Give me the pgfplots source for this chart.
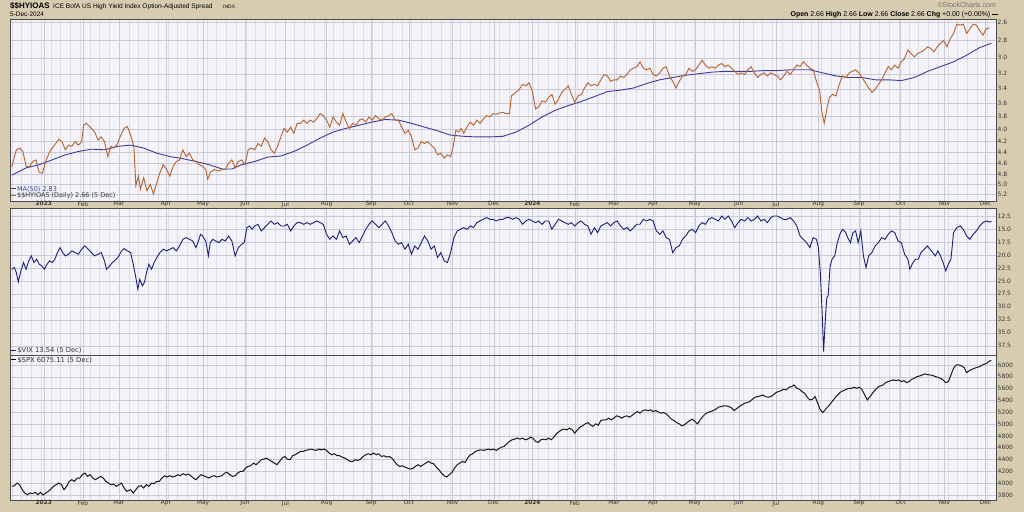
\documentclass[border=0pt]{standalone}
\usepackage{pgfplots}
\pgfplotsset{compat=1.18}
\usepackage{fontspec}
\setmainfont{DejaVu Sans}
\newfontfamily\arialf{Liberation Sans}
\definecolor{bgtan}{HTML}{D8CCB0}
\definecolor{plotbg}{HTML}{F3F3F9}
\definecolor{gridc}{HTML}{DDDDE6}
\definecolor{gridm}{HTML}{CACAD7}
\definecolor{hyc}{HTML}{B5622C}
\definecolor{mac}{HTML}{3D3D98}
\definecolor{vixc}{HTML}{1E1E78}
\definecolor{labc}{HTML}{333333}
\pgfplotsset{
  panel/.style={
    scale only axis, width=986bp, anchor=south west,
    xmin=15.3, xmax=1525,
    axis background/.style={fill=plotbg},
    xmajorgrids, xminorgrids, ymajorgrids,
    major grid style={draw=gridm, line width=0.35bp},
    minor grid style={draw=gridc, line width=0.3bp},
    xtick={67,127,182,254,311,375,437,500,568,626,693,756,815,880,940,1000,1064,1131,1188,1253,1315,1379,1446,1509},
    minor xtick={18,32.93,...,1525},
    major tick length=0pt, minor tick length=0pt,
    axis line style={draw=black!70, line width=0.5bp},
    ytick pos=right, yticklabel pos=right,
    tick label style={font=\fontsize{6}{7}\selectfont, text=labc},
    yticklabel style={inner sep=0.5bp, xshift=1bp},
    xticklabel style={font=\fontsize{5.8}{7}\selectfont, inner sep=0.5bp},
  },
  monthlabels/.style={xticklabels={\textbf{2023},Feb,Mar,Apr,May,Jun,Jul,Aug,Sep,Oct,Nov,Dec,\textbf{2024},Feb,Mar,Apr,May,Jun,Jul,Aug,Sep,Oct,Nov,Dec}},
}
\newcommand{\ldash}[1]{\textcolor{#1}{\rule[0.28em]{0.75em}{1.1bp}}}
\begin{document}
\begin{tikzpicture}
\useasboundingbox (0,0) rectangle (1024bp,512bp);
\fill[bgtan] (0,0) rectangle (1024bp,512bp);

% ---------- top panel: HY OAS (log, reversed)
\begin{axis}[panel, at={(10bp,311bp)}, height=182bp,
  ymode=log, y dir=reverse, ymin=2.566, ymax=5.349,
  ytick={2.6,2.8,3.0,3.2,3.4,3.6,3.8,4.0,4.2,4.4,4.6,4.8,5.0,5.2},
  yticklabels={2.6,2.8,3.0,3.2,3.4,3.6,3.8,4.0,4.2,4.4,4.6,4.8,5.0,5.2},
  xticklabel pos=left, monthlabels]
\addplot[mac, line width=0.9bp] coordinates {
(18,4.82)(40,4.68)(60,4.62)(80,4.53)(100,4.44)(120,4.38)(140,4.34)(160,4.35)(180,4.29)(200,4.27)
(220,4.32)(240,4.41)(260,4.47)(280,4.51)(300,4.56)(320,4.62)(340,4.70)(355,4.70)(370,4.62)(390,4.56)
(410,4.48)(430,4.46)(450,4.38)(470,4.27)(490,4.15)(510,4.05)(530,3.99)(550,3.94)(570,3.89)(590,3.85)
(610,3.86)(630,3.91)(650,3.97)(670,4.03)(690,4.10)(710,4.12)(730,4.13)(750,4.13)(770,4.12)(790,4.05)
(810,3.94)(830,3.81)(850,3.71)(870,3.64)(890,3.58)(910,3.51)(930,3.44)(950,3.42)(970,3.39)(990,3.33)
(1010,3.28)(1030,3.25)(1050,3.22)(1070,3.20)(1090,3.18)(1110,3.17)(1130,3.17)(1150,3.17)(1170,3.16)(1190,3.16)
(1210,3.15)(1240,3.15)(1260,3.19)(1280,3.23)(1300,3.25)(1320,3.25)(1340,3.28)(1360,3.28)(1380,3.29)(1400,3.25)
(1420,3.17)(1440,3.11)(1460,3.05)(1480,2.97)(1500,2.88)(1518,2.83)};
\addplot[hyc, line width=0.9bp] coordinates {
(18,4.66)(25,4.35)(30,4.32)(35,4.38)(40,4.65)(45,4.66)(50,4.56)(55,4.53)(60,4.77)(65,4.78)
(70,4.56)(75,4.41)(80,4.32)(90,4.17)(95,4.21)(100,4.35)(105,4.27)(110,4.29)(115,4.21)(120,4.27)
(125,4.21)(128,3.94)(132,3.91)(140,3.99)(145,4.05)(150,4.18)(155,4.13)(160,4.21)(165,4.47)(170,4.29)
(175,4.32)(180,4.24)(185,4.10)(190,3.99)(195,3.96)(200,4.10)(205,4.29)(208,5.03)(212,4.84)(215,5.10)
(220,4.87)(225,5.13)(230,5.00)(235,5.20)(240,4.97)(245,4.77)(250,4.62)(255,4.71)(260,4.84)(265,4.65)
(270,4.56)(275,4.53)(280,4.35)(285,4.47)(290,4.41)(295,4.53)(300,4.56)(305,4.62)(310,4.65)(315,4.71)
(318,4.90)(322,4.77)(328,4.71)(335,4.74)(340,4.71)(345,4.71)(350,4.59)(355,4.53)(360,4.68)(365,4.56)
(370,4.53)(375,4.62)(380,4.35)(385,4.32)(390,4.35)(395,4.24)(400,4.29)(405,4.15)(410,4.21)(415,4.35)
(420,4.41)(425,4.29)(430,4.13)(435,3.99)(440,4.05)(445,3.97)(450,4.07)(455,3.91)(460,3.91)(465,3.86)
(470,3.91)(475,3.86)(480,3.89)(485,3.84)(490,3.76)(495,3.79)(500,3.86)(505,3.97)(510,3.81)(515,3.89)
(520,3.94)(525,3.76)(530,3.89)(535,3.99)(540,3.91)(545,3.94)(550,3.86)(555,3.84)(560,3.89)(565,3.81)
(570,3.86)(575,3.79)(580,3.84)(585,3.86)(590,3.81)(595,3.79)(600,3.76)(605,3.86)(610,3.86)(615,3.97)
(620,4.07)(625,4.02)(630,4.13)(635,4.35)(640,4.32)(645,4.21)(650,4.24)(655,4.21)(660,4.27)(665,4.32)
(670,4.44)(675,4.41)(680,4.50)(685,4.44)(690,4.47)(694,4.29)(698,4.02)(702,4.05)(706,3.99)(710,4.07)
(715,3.97)(720,3.89)(725,3.94)(730,3.86)(735,3.91)(740,3.84)(745,3.79)(750,3.81)(755,3.76)(760,3.77)
(765,3.75)(770,3.74)(775,3.76)(780,3.76)(783,3.50)(790,3.45)(795,3.41)(800,3.34)(805,3.36)(810,3.32)
(815,3.43)(820,3.69)(825,3.66)(830,3.57)(835,3.59)(840,3.52)(845,3.48)(850,3.62)(855,3.55)(860,3.45)
(865,3.41)(870,3.36)(875,3.48)(880,3.59)(885,3.50)(890,3.48)(895,3.39)(900,3.32)(905,3.36)(910,3.34)
(915,3.36)(920,3.28)(925,3.21)(930,3.23)(935,3.30)(940,3.28)(945,3.28)(950,3.23)(955,3.25)(960,3.21)
(965,3.15)(970,3.13)(975,3.11)(980,3.05)(985,3.13)(990,3.15)(995,3.13)(1000,3.21)(1005,3.23)(1010,3.19)
(1015,3.13)(1020,3.11)(1025,3.23)(1030,3.30)(1035,3.39)(1040,3.30)(1045,3.23)(1050,3.21)(1055,3.13)(1060,3.17)
(1065,3.15)(1070,3.09)(1075,3.03)(1080,3.09)(1085,3.13)(1090,3.11)(1095,3.13)(1100,3.09)(1105,3.07)(1110,3.11)
(1115,3.09)(1120,3.13)(1125,3.17)(1130,3.21)(1135,3.19)(1140,3.21)(1145,3.15)(1150,3.11)(1155,3.19)(1160,3.25)
(1165,3.21)(1170,3.19)(1175,3.23)(1180,3.19)(1185,3.21)(1190,3.23)(1195,3.28)(1200,3.23)(1205,3.17)(1210,3.21)
(1215,3.15)(1220,3.09)(1225,3.11)(1230,3.05)(1235,3.09)(1240,3.13)(1245,3.15)(1250,3.30)(1255,3.43)(1258,3.71)
(1262,3.91)(1266,3.69)(1270,3.52)(1275,3.48)(1280,3.50)(1285,3.34)(1290,3.23)(1295,3.25)(1300,3.19)(1305,3.17)
(1310,3.15)(1315,3.19)(1320,3.25)(1325,3.32)(1330,3.39)(1335,3.45)(1340,3.41)(1345,3.34)(1350,3.28)(1355,3.19)
(1360,3.11)(1365,3.15)(1370,3.09)(1375,3.13)(1380,3.05)(1385,3.01)(1390,2.91)(1395,2.95)(1400,2.99)(1405,2.95)
(1410,2.93)(1415,2.91)(1420,2.87)(1425,2.89)(1430,2.93)(1435,2.87)(1440,2.83)(1445,2.80)(1450,2.87)(1455,2.78)
(1460,2.72)(1465,2.62)(1470,2.63)(1475,2.62)(1480,2.72)(1485,2.67)(1490,2.62)(1495,2.63)(1500,2.69)(1505,2.74)
(1510,2.67)(1515,2.66)};
\end{axis}

% ---------- middle panel: VIX (reversed)
\begin{axis}[panel, at={(10bp,157bp)}, height=147bp,
  y dir=reverse, ymin=10.96, ymax=39.29,
  ytick={12.5,15,17.5,20,22.5,25,27.5,30,32.5,35,37.5},
  yticklabels={12.5,15.0,17.5,20.0,22.5,25.0,27.5,30.0,32.5,35.0,37.5},
  xticklabels={}]
\addplot[vixc, line width=0.9bp] coordinates {
(18,22.76)(22,22.44)(25,23.40)(28,25.19)(32,23.08)(36,21.47)(40,22.76)(44,21.15)(48,20.19)(52,21.47)
(56,20.83)(60,21.79)(64,22.12)(68,22.76)(72,21.79)(76,21.15)(80,21.47)(84,20.83)(88,19.55)(92,18.59)
(96,19.55)(100,20.19)(105,19.87)(110,19.23)(115,19.55)(120,19.87)(125,18.91)(130,18.27)(135,18.91)(140,19.55)
(145,20.19)(150,19.87)(155,19.55)(160,21.15)(163,22.76)(168,22.12)(172,21.47)(178,20.83)(182,20.19)(186,19.23)
(190,18.78)(195,19.23)(200,19.55)(204,21.79)(208,24.36)(211,26.60)(214,24.68)(218,25.96)(221,25.32)(225,23.08)
(228,21.79)(232,22.76)(236,21.47)(240,20.51)(245,19.55)(250,18.91)(255,19.23)(260,18.91)(265,18.59)(270,19.23)
(275,18.27)(280,16.99)(285,16.67)(290,16.99)(295,17.31)(300,18.59)(303,17.63)(307,16.03)(310,16.35)(315,17.31)
(319,20.19)(322,17.63)(326,16.99)(330,17.31)(335,17.63)(340,16.99)(345,17.31)(350,16.35)(355,17.31)(360,20.19)
(365,18.59)(370,17.95)(374,17.63)(378,14.74)(382,14.42)(386,15.06)(390,14.42)(395,14.10)(400,15.38)(405,14.74)
(410,14.10)(415,13.46)(420,14.10)(425,13.78)(430,14.42)(435,14.42)(440,14.10)(445,15.38)(450,14.42)(455,13.78)
(460,13.78)(465,14.10)(470,13.78)(475,14.10)(480,13.78)(485,13.46)(490,13.78)(495,14.10)(500,16.03)(505,16.99)
(510,16.35)(515,16.99)(520,15.38)(525,16.67)(530,16.35)(535,17.95)(540,17.31)(545,16.67)(550,17.63)(555,16.35)
(560,15.06)(565,14.10)(570,13.46)(575,14.10)(580,14.74)(585,14.10)(590,13.46)(595,14.42)(600,15.71)(605,17.31)
(610,17.95)(615,17.63)(620,18.91)(625,17.95)(630,19.87)(635,18.27)(640,18.91)(645,17.63)(650,16.35)(655,17.31)
(660,18.91)(665,18.27)(670,20.51)(675,19.55)(680,21.15)(685,21.47)(690,19.55)(695,16.67)(700,15.38)(705,15.06)
(710,14.74)(715,15.06)(720,14.42)(725,14.74)(730,13.78)(735,13.46)(740,13.14)(745,12.82)(750,13.14)(755,13.14)
(760,13.46)(765,13.14)(770,13.14)(775,12.82)(780,12.82)(785,13.14)(790,12.82)(795,13.14)(800,14.10)(805,13.46)
(810,13.14)(815,13.46)(820,13.78)(825,13.46)(830,14.10)(835,13.46)(840,13.46)(845,15.06)(850,14.10)(855,13.14)
(860,13.46)(865,13.78)(870,14.10)(875,13.78)(880,14.42)(885,13.78)(890,13.46)(895,14.10)(900,14.42)(905,16.03)
(910,14.74)(915,15.71)(920,14.42)(925,14.10)(930,13.78)(935,14.42)(940,13.78)(945,13.46)(950,14.42)(955,15.06)
(960,14.74)(965,15.38)(970,14.74)(975,14.10)(980,14.10)(985,13.14)(990,13.46)(995,13.14)(1000,13.46)(1005,15.38)
(1010,16.03)(1015,15.38)(1020,16.67)(1025,16.99)(1030,19.55)(1035,18.59)(1040,18.27)(1045,16.99)(1050,16.35)(1055,15.38)
(1060,15.06)(1065,15.71)(1070,14.42)(1075,13.78)(1080,14.10)(1085,13.14)(1090,12.82)(1095,13.14)(1100,13.46)(1105,12.50)
(1110,13.14)(1115,12.50)(1120,13.46)(1125,14.74)(1130,13.78)(1135,13.14)(1140,13.46)(1145,12.82)(1150,13.46)(1155,13.14)
(1160,12.50)(1165,13.46)(1170,13.14)(1175,13.78)(1180,12.82)(1185,12.50)(1190,12.50)(1195,12.82)(1200,13.14)(1205,13.14)
(1210,12.82)(1215,13.46)(1220,14.42)(1225,16.35)(1230,16.99)(1235,17.63)(1240,18.59)(1245,16.67)(1250,16.99)(1253,18.59)
(1256,23.40)(1259,31.73)(1261,38.65)(1264,31.73)(1266,28.20)(1268,27.88)(1271,22.12)(1274,20.83)(1278,20.19)(1282,17.63)
(1286,16.03)(1290,15.06)(1295,15.71)(1298,16.67)(1302,17.63)(1306,15.71)(1310,15.38)(1314,17.63)(1318,15.38)(1322,20.19)
(1326,22.44)(1330,20.19)(1335,19.55)(1340,18.27)(1345,17.63)(1350,16.67)(1355,16.99)(1360,16.03)(1365,15.38)(1370,15.71)
(1375,17.31)(1380,17.63)(1385,19.87)(1390,20.83)(1393,22.76)(1398,21.47)(1402,20.83)(1406,20.83)(1410,19.55)(1415,18.91)
(1420,18.27)(1424,18.91)(1428,19.55)(1432,20.19)(1436,19.23)(1440,20.19)(1444,21.47)(1448,23.08)(1452,21.79)(1456,20.83)
(1460,15.71)(1465,14.74)(1470,14.42)(1475,15.06)(1480,16.35)(1485,16.99)(1490,16.03)(1495,15.38)(1500,14.42)(1505,13.78)
(1510,13.46)(1515,13.65)(1518,13.54)};
\end{axis}

% ---------- bottom panel: SPX
\begin{axis}[panel, at={(10bp,12bp)}, height=145bp,
  ymin=3715, ymax=6169,
  ytick={3800,4000,4200,4400,4600,4800,5000,5200,5400,5600,5800,6000},
  yticklabels={3800,4000,4200,4400,4600,4800,5000,5200,5400,5600,5800,6000},
  monthlabels]
\addplot[black!90, line width=1bp] coordinates {
(18,3946)(22,3957)(26,4002)(30,3974)(34,3890)(38,3833)(42,3805)(46,3833)(50,3822)(54,3845)
(58,3805)(62,3845)(66,3800)(70,3833)(74,3862)(78,3901)(82,3946)(86,3974)(90,4002)(94,3974)
(98,3890)(102,3946)(106,4030)(110,4059)(114,4030)(118,4087)(122,4087)(126,4143)(130,4171)(134,4115)
(138,4143)(142,4087)(146,4059)(150,4087)(154,4115)(158,4087)(162,4030)(166,4002)(170,3974)(174,3985)
(178,3946)(182,3974)(186,4002)(190,3918)(194,3862)(200,3890)(204,3833)(208,3890)(212,3946)(216,3957)
(220,3918)(224,3974)(228,3946)(232,4002)(236,3991)(240,4030)(244,4030)(248,4087)(252,4126)(256,4104)
(260,4126)(264,4104)(268,4115)(272,4143)(276,4126)(280,4160)(284,4137)(288,4154)(292,4126)(296,4087)
(300,4059)(304,4104)(308,4143)(312,4126)(316,4104)(320,4087)(324,4115)(328,4126)(332,4104)(336,4115)
(340,4126)(344,4171)(348,4182)(352,4143)(356,4115)(360,4126)(364,4171)(368,4199)(372,4199)(376,4255)
(380,4284)(384,4295)(388,4340)(392,4312)(396,4351)(400,4396)(404,4407)(408,4424)(412,4396)(416,4368)
(420,4340)(424,4312)(428,4368)(432,4424)(436,4452)(440,4407)(444,4396)(448,4464)(452,4481)(456,4509)
(460,4537)(464,4537)(468,4554)(472,4565)(476,4576)(480,4565)(484,4554)(488,4576)(492,4565)(496,4576)
(500,4554)(504,4509)(508,4481)(512,4497)(516,4464)(520,4464)(524,4441)(528,4424)(532,4396)(536,4368)
(540,4368)(544,4396)(548,4385)(552,4407)(556,4452)(560,4481)(564,4497)(568,4481)(572,4509)(576,4481)
(580,4497)(584,4452)(588,4464)(592,4441)(596,4452)(600,4424)(604,4368)(608,4312)(612,4284)(616,4295)
(620,4272)(624,4255)(628,4239)(632,4250)(636,4284)(640,4312)(644,4284)(648,4312)(652,4340)(656,4368)
(660,4340)(664,4329)(668,4272)(672,4227)(676,4171)(680,4126)(684,4104)(688,4143)(692,4182)(696,4255)
(700,4312)(704,4340)(708,4368)(712,4351)(716,4424)(720,4481)(724,4497)(728,4537)(732,4554)(736,4565)
(740,4554)(744,4565)(748,4576)(752,4565)(756,4576)(760,4554)(764,4587)(768,4610)(772,4621)(776,4666)
(780,4706)(784,4734)(788,4745)(792,4762)(796,4745)(800,4762)(804,4734)(808,4745)(812,4779)(816,4762)
(820,4706)(824,4689)(828,4734)(832,4745)(836,4734)(840,4762)(844,4734)(848,4779)(852,4835)(856,4874)
(860,4903)(864,4914)(868,4903)(872,4931)(876,4903)(880,4846)(884,4903)(888,4948)(892,4970)(896,5004)
(900,5026)(904,4987)(908,4959)(912,5004)(916,4981)(920,5060)(924,5071)(928,5071)(932,5100)(936,5071)
(940,5100)(944,5139)(948,5128)(952,5100)(956,5128)(960,5139)(964,5116)(968,5150)(972,5184)(976,5212)
(980,5184)(984,5229)(988,5240)(992,5229)(996,5240)(1000,5212)(1004,5229)(1008,5206)(1012,5184)(1016,5195)
(1020,5173)(1024,5128)(1028,5083)(1032,5060)(1036,5026)(1040,5004)(1044,4970)(1048,4987)(1052,5026)(1056,5060)
(1060,5083)(1064,5043)(1068,5004)(1072,5071)(1076,5128)(1080,5173)(1084,5195)(1088,5212)(1092,5229)(1096,5251)
(1100,5285)(1104,5296)(1108,5308)(1112,5308)(1116,5296)(1120,5274)(1124,5229)(1128,5263)(1132,5296)(1136,5325)
(1140,5353)(1144,5364)(1148,5381)(1152,5420)(1156,5454)(1160,5465)(1164,5476)(1168,5493)(1172,5465)(1176,5454)
(1180,5465)(1184,5493)(1188,5533)(1192,5550)(1196,5567)(1200,5589)(1204,5578)(1208,5623)(1212,5634)(1216,5662)
(1220,5606)(1224,5589)(1228,5550)(1232,5522)(1236,5454)(1240,5409)(1244,5420)(1248,5465)(1252,5353)(1256,5240)
(1260,5195)(1264,5251)(1268,5296)(1272,5353)(1276,5409)(1280,5465)(1284,5510)(1288,5550)(1292,5567)(1296,5589)
(1300,5606)(1304,5606)(1308,5623)(1312,5606)(1316,5623)(1320,5578)(1324,5493)(1328,5409)(1332,5465)(1336,5522)
(1340,5578)(1344,5623)(1348,5645)(1352,5662)(1356,5702)(1360,5719)(1364,5736)(1368,5747)(1372,5736)(1376,5747)
(1380,5719)(1384,5736)(1388,5702)(1392,5719)(1396,5758)(1400,5775)(1404,5803)(1408,5814)(1412,5831)(1416,5848)
(1420,5837)(1424,5831)(1428,5825)(1432,5803)(1436,5792)(1440,5775)(1444,5747)(1448,5702)(1452,5719)(1456,5831)
(1460,5944)(1464,6000)(1468,6000)(1472,5983)(1476,5960)(1480,5870)(1484,5904)(1488,5927)(1492,5944)(1496,5960)
(1500,5972)(1504,6000)(1508,6017)(1512,6039)(1516,6073)(1518,6075)};
\end{axis}

% ---------- header texts
\node[anchor=base west, inner sep=0, font=\arialf\bfseries\fontsize{8}{9}\selectfont] at (10bp,503.8bp) {\$\$HYIOAS};
\node[anchor=base west, inner sep=0, font=\arialf\fontsize{6.6}{8}\selectfont] at (53bp,503.8bp) {ICE BofA US High Yield Index Option-Adjusted Spread};
\node[anchor=base west, inner sep=0, font=\arialf\fontsize{5}{6}\selectfont] at (223bp,503.8bp) {INDX};
\node[anchor=base west, inner sep=0, font=\arialf\fontsize{6.5}{7}\selectfont] at (10bp,495.4bp) {5-Dec-2024};
\node[anchor=base east, inner sep=0, text=black!55, font=\arialf\fontsize{7}{8}\selectfont] at (996bp,504bp) {\textcopyright StockCharts.com};
\node[anchor=base east, inner sep=0, font=\arialf\fontsize{7}{8}\selectfont] at (998bp,495.4bp) {\textbf{Open} 2.66 \textbf{High} 2.66 \textbf{Low} 2.66 \textbf{Close} 2.66 \textbf{Chg} +0.00 (+0.00\%) \rule[0.3em]{0.8em}{0.9bp}};

% ---------- legends
\node[anchor=west, inner sep=0, font=\fontsize{6.5}{7}\selectfont] at (11bp,323bp) {\ldash{mac}\,\textcolor{mac}{MA(50) 2.83}};
\node[anchor=west, inner sep=0, font=\fontsize{6.5}{7}\selectfont] at (11bp,316.3bp) {\ldash{hyc}\,\textcolor{labc}{\$\$HYIOAS (Daily) 2.66 (5 Dec)}};
\node[anchor=west, inner sep=0, font=\fontsize{6.8}{7}\selectfont] at (11bp,161.3bp) {\ldash{vixc}\,\textcolor{labc}{\$VIX 13.54 (5 Dec)}};
\node[anchor=west, inner sep=0, font=\fontsize{6.8}{7}\selectfont] at (11bp,152bp) {\ldash{black}\,\textcolor{labc}{\$SPX 6075.11 (5 Dec)}};
\end{tikzpicture}
\end{document}
